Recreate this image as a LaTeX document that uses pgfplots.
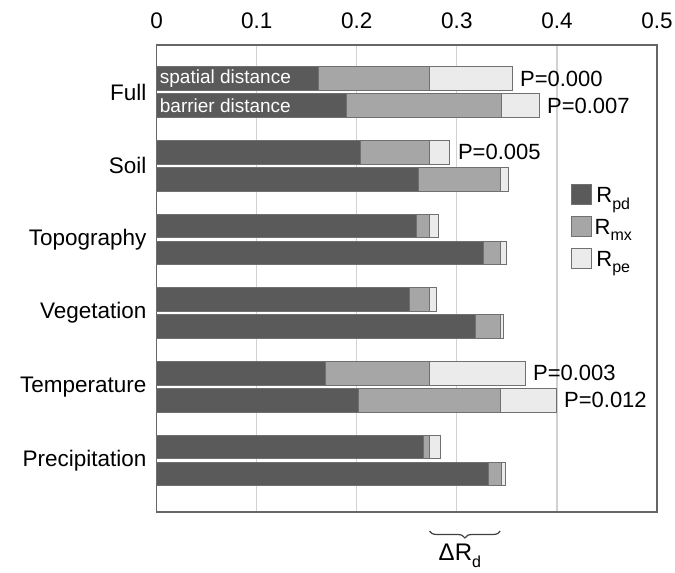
\documentclass[border=0pt]{standalone}
\usepackage{fontspec}
\setmainfont{Liberation Sans}
\usepackage{pgfplots}
\pgfplotsset{compat=1.18}
\usetikzlibrary{decorations.pathreplacing,calc}
\definecolor{cpd}{HTML}{5A5A5A}
\definecolor{cmx}{HTML}{A6A6A6}
\definecolor{cpe}{HTML}{EBEBEB}
\definecolor{cedge}{HTML}{707070}
\newcommand{\sub}[1]{\raisebox{-0.3em}{\fontsize{16}{18}\selectfont #1}}
\pgfplotsset{sqlegend/.style={legend image code/.code={\draw[##1, draw=cedge, line width=1pt] (0pt,-9pt) rectangle (20pt,11pt);}}}
\begin{document}
\begin{tikzpicture}
\begin{axis}[
  scale only axis, width=500.3pt, height=467pt,
  xmin=0, xmax=0.5, ymin=45, ymax=512, y dir=reverse,
  xbar stacked, bar width=23.5,
  xtick={0,0.1,0.2,0.3,0.4,0.5},
  xticklabels={0,0.1,0.2,0.3,0.4,0.5},
  xticklabel pos=upper,
  ytick={92,165.7,239.4,313.1,386.8,460.5},
  yticklabels={Full,Soil,Topography,Vegetation,Temperature,Precipitation},
  major tick length=0pt,
  xmajorgrids, grid style={color=black!18, line width=1.2pt},
  axis line style={color=black!60, line width=1.3pt},
  every tick label/.append style={inner sep=0pt, font=\fontsize{22.5}{26}\selectfont},
  xticklabel style={yshift=16pt},
  yticklabel style={xshift=-10pt},
  clip=false,
  sqlegend,
  legend style={at={(axis cs:0.4135,184)}, anchor=north west, draw=none, fill=none,
    inner sep=0pt, row sep=10pt, column sep=1pt, font=\fontsize{22}{26}\selectfont},
]
\addplot[fill=cpd, draw=cedge, line width=0.8pt] coordinates {
 (0.162,78.5) (0.190,105.5)
 (0.204,152.2) (0.262,179.2)
 (0.260,225.9) (0.327,252.9)
 (0.253,299.6) (0.319,326.6)
 (0.169,373.3) (0.202,400.3)
 (0.267,447) (0.332,474)};
\addlegendentry{R\sub{pd}}
\addplot[fill=cmx, draw=cedge, line width=0.8pt] coordinates {
 (0.111,78.5) (0.154,105.5)
 (0.069,152.2) (0.081,179.2)
 (0.013,225.9) (0.016,252.9)
 (0.020,299.6) (0.024,326.6)
 (0.104,373.3) (0.141,400.3)
 (0.006,447) (0.012,474)};
\addlegendentry{R\sub{mx}}
\addplot[fill=cpe, draw=cedge, line width=0.8pt] coordinates {
 (0.082,78.5) (0.038,105.5)
 (0.020,152.2) (0.008,179.2)
 (0.009,225.9) (0.006,252.9)
 (0.007,299.6) (0.003,326.6)
 (0.095,373.3) (0.056,400.3)
 (0.011,447) (0.004,474)};
\addlegendentry{R\sub{pe}}
\coordinate (sp) at (axis cs:0,78.5);
\coordinate (bd) at (axis cs:0,105.5);
\node[anchor=west, inner sep=0pt, xshift=8pt, font=\fontsize{22}{26}\selectfont] at (axis cs:0.355,78.5) {P=0.000};
\node[anchor=west, inner sep=0pt, xshift=8pt, font=\fontsize{22}{26}\selectfont] at (axis cs:0.382,105.5) {P=0.007};
\node[anchor=west, inner sep=0pt, xshift=8pt, font=\fontsize{22}{26}\selectfont] at (axis cs:0.293,152.2) {P=0.005};
\node[anchor=west, inner sep=0pt, xshift=8pt, font=\fontsize{22}{26}\selectfont] at (axis cs:0.368,373.3) {P=0.003};
\node[anchor=west, inner sep=0pt, xshift=8pt, font=\fontsize{22}{26}\selectfont] at (axis cs:0.399,400.3) {P=0.012};
\draw[decorate, decoration={brace, amplitude=7pt, mirror}, color=black!75, line width=1.2pt]
  (axis cs:0.2727,531) -- (axis cs:0.3433,531);
\node[font=\fontsize{24}{28}\selectfont, inner sep=0pt] at (axis cs:0.303,556) {ΔR\sub{d}};
\end{axis}
\node[anchor=west, inner sep=0pt, xshift=3pt, text=white, font=\fontsize{19}{22}\selectfont] at (sp) {spatial distance};
\node[anchor=west, inner sep=0pt, xshift=3pt, text=white, font=\fontsize{19}{22}\selectfont] at (bd) {barrier distance};
\pgfresetboundingbox
\path[use as bounding box] ($(current axis.south west)+(-156.7pt,-61pt)$) rectangle ($(current axis.north east)+(18pt,45pt)$);
\end{tikzpicture}
\end{document}
